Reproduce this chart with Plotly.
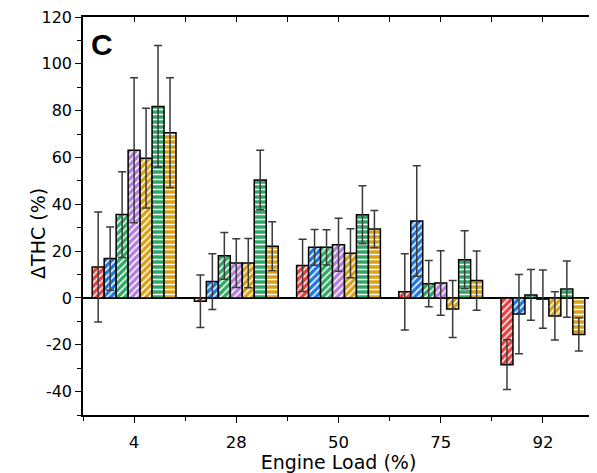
import plotly.graph_objects as go

categories = ["4", "28", "50", "75", "92"]
series_names = ["S1", "S2", "S3", "S4", "S5", "S6", "S7"]
s1 = [13.2, -1.4, 13.9, 2.6, -28.5]
s1_err = [23.5, 11.2, 11.2, 16.3, 10.6]
s2 = [16.8, 7.0, 21.6, 32.9, -6.9]
s2_err = [13.5, 11.9, 7.6, 23.6, 16.9]
s3 = [35.6, 18.0, 21.6, 6.1, 1.3]
s3_err = [18.3, 10.0, 7.5, 9.9, 10.8]
s4 = [63.1, 14.9, 22.7, 6.4, -0.5]
s4_err = [31.0, 10.4, 11.3, 13.8, 12.4]
s5 = [59.7, 14.9, 19.1, -4.7, -7.7]
s5_err = [21.3, 10.5, 10.5, 12.2, 10.3]
s6 = [81.8, 50.4, 35.5, 16.3, 3.8]
s6_err = [26.0, 12.7, 12.4, 12.4, 12.0]
s7 = [70.6, 22.1, 29.4, 7.4, -15.6]
s7_err = [23.5, 10.4, 8.0, 12.7, 7.1]

y_tickvals = [-40, -20, 0, 20, 40, 60, 80, 100, 120]
y_ticktext = ["-40", "-20", "0", "20", "40", "60", "80", "100", "120"]

values = [s1, s2, s3, s4, s5, s6, s7]
errors = [s1_err, s2_err, s3_err, s4_err, s5_err, s6_err, s7_err]
colors = ["#e8403f", "#1f78e0", "#2fa866", "#b47fe0", "#d9a115", "#2fa866", "#d9a115"]
shapes = ["/", "/", "/", "/", "/", "-", "-"]

xpos = list(range(len(categories)))

fig = go.Figure()
for name, vals, errs, col, shp in zip(series_names, values, errors, colors, shapes):
    fig.add_trace(go.Bar(
        x=xpos, y=vals, name=name,
        marker=dict(
            color=col,
            line=dict(color="black", width=1.5),
            pattern=dict(shape=shp, bgcolor=col, fgcolor="white",
                         size=5, solidity=0.3, fillmode="replace"),
        ),
        error_y=dict(type="data", array=errs, visible=True,
                     color="#3a3a3a", thickness=1.5, width=4),
        showlegend=False,
    ))

# dummy trace for mirrored axes
fig.add_trace(go.Scatter(x=[None], y=[None], xaxis="x2", yaxis="y2",
                         showlegend=False, hoverinfo="skip"))

tickfont = dict(family="DejaVu Sans", size=16, color="black")

# the page body adds an 8px offset; the figure is sized to compensate
fig.update_layout(
    width=589, height=465,
    margin=dict(l=75, r=3, t=9, b=58, autoexpand=False),
    paper_bgcolor="white", plot_bgcolor="white",
    barmode="group", bargap=0.18, bargroupgap=0,
    font=dict(family="DejaVu Sans", color="black"),
    xaxis=dict(
        range=[-0.5, 4.5], tickmode="array", tickvals=xpos, ticktext=categories,
        ticks="outside", ticklen=6, tickwidth=1.2, tickcolor="black",
        minor=dict(tickmode="array", tickvals=[-0.5, 0.5, 1.5, 2.5, 3.5, 4.5],
                   ticks="outside", ticklen=4, tickwidth=1.2, tickcolor="black"),
        showline=True, linecolor="black", linewidth=1.5,
        showgrid=False, zeroline=False, tickfont=dict(family="DejaVu Sans", size=16.5, color="black"),
        ticklabelstandoff=5, automargin=False, ticklabeloverflow="allow",
        title=dict(text="Engine Load (%)", font=dict(family="DejaVu Sans", size=19), standoff=0),
    ),
    yaxis=dict(
        range=[-50, 120], tickmode="array", tickvals=y_tickvals, ticktext=y_ticktext,
        ticks="outside", ticklen=6, tickwidth=1.2, tickcolor="black",
        minor=dict(tickmode="linear", tick0=0, dtick=10, ticks="outside",
                   ticklen=4, tickwidth=1.2, tickcolor="black"),
        showline=True, linecolor="black", linewidth=1.5,
        showgrid=False, zeroline=True, zerolinecolor="black", zerolinewidth=2,
        tickfont=tickfont, automargin=False, ticklabeloverflow="allow",
    ),
    xaxis2=dict(
        overlaying="x", side="top", anchor="y", range=[-0.5, 4.5],
        tickmode="array", tickvals=[-0.5, 0, 0.5, 1, 1.5, 2, 2.5, 3, 3.5, 4, 4.5],
        ticks="inside", ticklen=5, tickwidth=1.2, tickcolor="black",
        showticklabels=False, showline=True, linecolor="black", linewidth=1.5,
        showgrid=False, zeroline=False,
    ),
    yaxis2=dict(
        overlaying="y", side="right", anchor="x", range=[-50, 120],
        tickmode="linear", tick0=0, dtick=10,
        ticks="inside", ticklen=5, tickwidth=1.2, tickcolor="black",
        showticklabels=False, showline=True, linecolor="black", linewidth=1.5,
        showgrid=False, zeroline=False,
    ),
    annotations=[
        dict(text="<b>C</b>", xref="paper", yref="paper", x=0.012, y=0.93,
             xanchor="left", yanchor="middle", showarrow=False,
             font=dict(family="Liberation Sans", size=30, color="black")),
        dict(text="ΔTHC (%)", xref="paper", yref="paper", x=-0.088, y=0.455,
             xanchor="center", yanchor="middle", textangle=-90, showarrow=False,
             font=dict(family="DejaVu Sans", size=19, color="black")),
    ],
)

fig.write_html("out.html")
